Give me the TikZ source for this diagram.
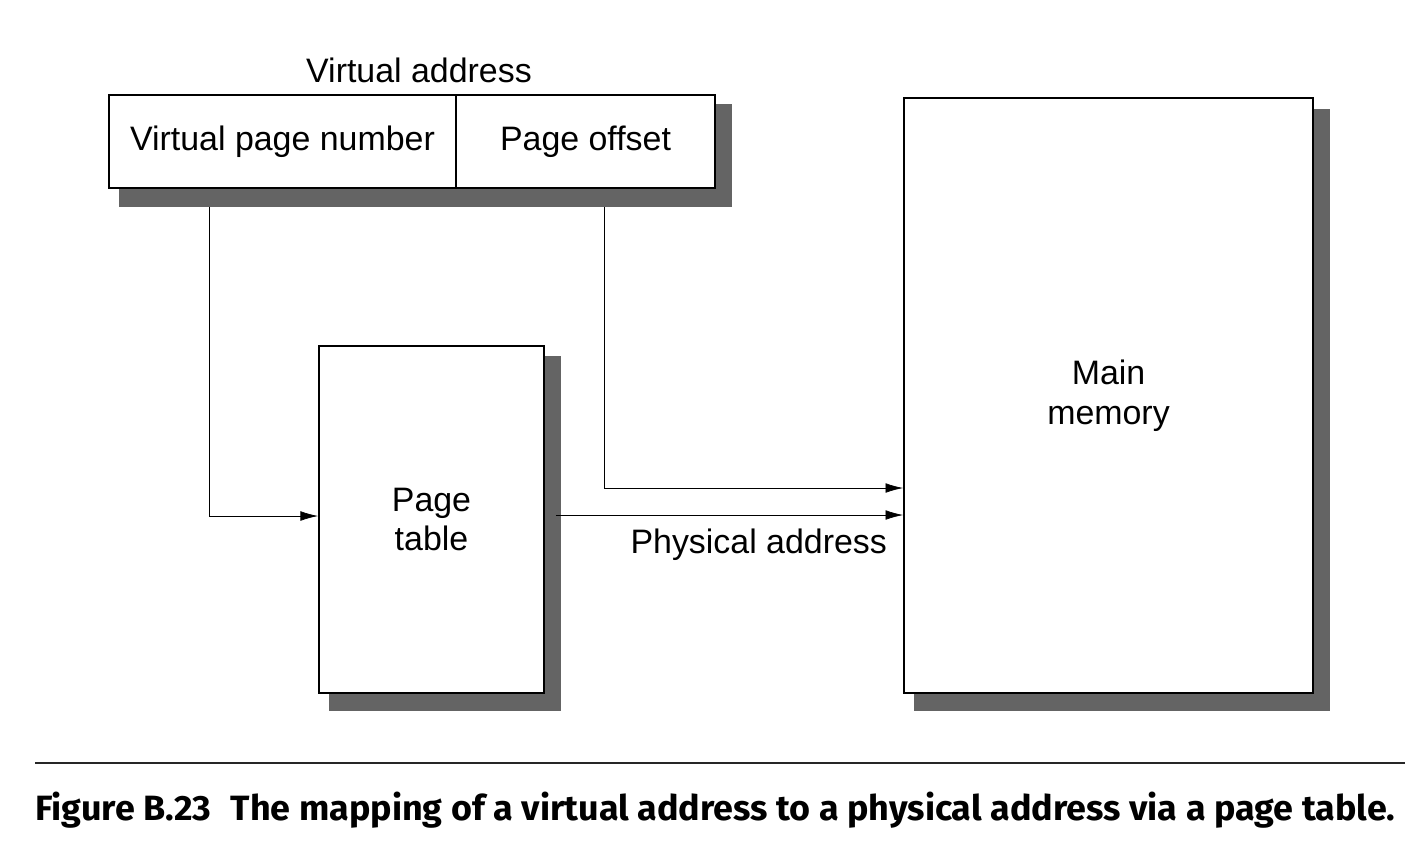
\documentclass[tikz,border=0pt]{standalone}
\usepackage{fontspec}
\setmainfont{Liberation Sans}
\newfontfamily\capfont{Fira Sans}
\usetikzlibrary{positioning,calc,arrows.meta,backgrounds}
\definecolor{shadowgray}{RGB}{100,100,100}

\begin{document}
\begin{tikzpicture}[x=0.02cm,y=-0.02cm,>={Latex[length=10pt,width=5.5pt]},line width=1.1pt,
    box/.style={draw,fill=white,align=center,inner sep=0pt,font=\fontsize{19.3}{22.7}\selectfont},
    shade/.style={fill=shadowgray,draw=none}]
    \useasboundingbox (0,0) rectangle (1422,856);
    % boxes
    \node[box,minimum width=6.94cm,minimum height=1.86cm] (vpn) at (282.5,141.5) {Virtual page number};
    \node[box,minimum width=5.18cm,minimum height=1.86cm] (off) at (585.5,141.5) {Page offset};
    \node[box,minimum width=4.5cm,minimum height=6.94cm] (pt) at (431.5,519.5) {Page\\table};
    \node[box,minimum width=8.18cm,minimum height=11.9cm] (mm) at (1108.5,395.5) {Main\\memory};
    \node[font=\fontsize{19.3}{22.7}\selectfont] (vaddr) at (419,70) {Virtual address};
    % shadows
    \begin{pgfonlayer}{background}
        \fill[shade] ($(vpn.north west)+(11,10)$) rectangle ($(off.south east)+(16,18)$);
        \fill[shade] ($(pt.north west)+(11,11)$) rectangle ($(pt.south east)+(16,17)$);
        \fill[shade] ($(mm.north west)+(11,12)$) rectangle ($(mm.south east)+(16,17)$);
    \end{pgfonlayer}
    % connectors
    \coordinate (vpnout) at ($(vpn.south west)+(101,18)$);
    \coordinate (offout) at ($(off.south west)+(149,18)$);
    \coordinate (ptin) at ($(pt.west)+(0,-3.5)$);
    \coordinate (mmin) at ($(mm.west)+(0,92.5)$);
    \coordinate (ptout) at ($(pt.east)+(11,-4.5)$);
    \draw[->] (vpnout) |- (ptin);
    \draw[->] (offout) |- (mmin);
    \draw[->] (ptout) -- node[pos=1,anchor=north east,xshift=-0.2cm,yshift=-0.16cm,font=\fontsize{19.3}{22.7}\selectfont] (phys) {Physical address} (mm.west |- ptout);
    % caption
    \draw[line width=1.4pt,black!85] (35,763) -- (1405,763);
    \node[anchor=base west,inner sep=0pt] (caption) at (35,820) {\resizebox{27.2cm}{0.57cm}{\capfont\bfseries Figure B.23\hspace{0.3em} The mapping of a virtual address to a physical address via a page table.}};
\end{tikzpicture}
\end{document}
